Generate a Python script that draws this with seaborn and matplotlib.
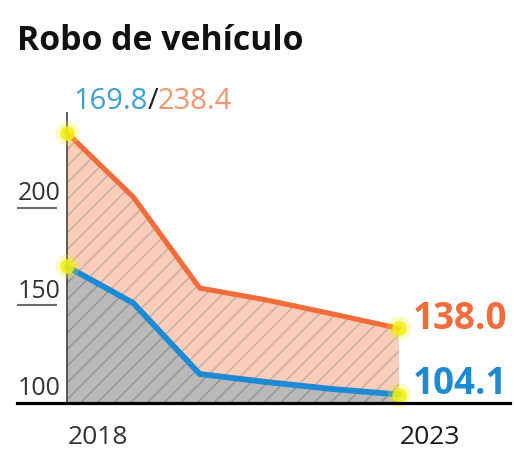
import pandas as pd
import matplotlib.pyplot as plt
import seaborn as sns

# data
years = [2018, 2019, 2020, 2021, 2022, 2023]
total = [238.4, 205.4, 158.7, 152.6, 145.4, 138.0]
solved = [169.8, 151.0, 114.6, 110.5, 106.9, 104.1]
y_ticks = [100, 150, 200]
title = "Robo de vehículo"

df = pd.DataFrame({'year': years, 'total': total, 'solved': solved})

sns.set_style('white')
plt.rcParams['font.family'] = ['Open Sans', 'DejaVu Sans']
plt.rcParams['hatch.linewidth'] = 0.9

ORANGE = '#f26b3a'
BLUE = '#1d8bd3'
SALMON = '#f9cdb7'
GREY = '#b9b9b9'
YELLOW = '#f0f010'

W, H = 514, 456
fig = plt.figure(figsize=(W / 100, H / 100), dpi=100)
ax = fig.add_axes([17 / W, 52.5 / H, 493 / W, 303.5 / H])

px_per_unit = 1.95
ax.set_xlim(2017.25, 2024.67)
ax.set_ylim(100, 100 + 303.5 / px_per_unit)

# areas
ax.fill_between(df['year'], df['total'], 100, facecolor=SALMON, edgecolor='#bba9a6',
                hatch='//', linewidth=0, zorder=1)
ax.fill_between(df['year'], df['solved'], 100, facecolor=GREY, edgecolor='#8f8f8f',
                hatch='//', linewidth=0, zorder=2)

# lines
sns.lineplot(data=df, x='year', y='total', color=ORANGE, linewidth=3.7, ax=ax, zorder=4)
sns.lineplot(data=df, x='year', y='solved', color=BLUE, linewidth=4.2, ax=ax, zorder=4)

# yellow end dots
ends_x = [years[0], years[0], years[-1], years[-1]]
ends_y = [total[0], solved[0], total[-1], solved[-1]]
ax.scatter(ends_x, ends_y, s=300, color=YELLOW, alpha=0.25, linewidth=0, zorder=5, clip_on=False)
ax.scatter(ends_x, ends_y, s=110, color=YELLOW, alpha=0.85, linewidth=0, zorder=6, clip_on=False)

# vertical guide at first year
ax.vlines(years[0], 100, 249, color='#444444', linewidth=1.2, zorder=3)

# spines / ticks
for s in ['top', 'right', 'left']:
    ax.spines[s].set_visible(False)
ax.spines['bottom'].set_color('black')
ax.spines['bottom'].set_linewidth(2.3)
ax.spines['bottom'].set_zorder(7)
ax.set_xticks([])
ax.set_yticks([])
ax.set_xlabel('')
ax.set_ylabel('')

# y labels above short rules
for t in y_ticks:
    if t != 100:
        ax.hlines(t, 2017.25, 2017.85, color='#6a6a6a', linewidth=1.5)
    ax.annotate(str(t), xy=(2017.25, t), xytext=(0.8, 6.1), textcoords='offset points',
                ha='left', va='baseline', fontsize=18, color='#333333')

# x labels
ax.annotate(str(years[0]), xy=(years[0], 100), xytext=(0.8, -29.5), textcoords='offset points',
            ha='left', va='baseline', fontsize=19, color='#333333', annotation_clip=False)
ax.annotate(str(years[-1]), xy=(years[-1], 100), xytext=(0.8, -29.5), textcoords='offset points',
            ha='left', va='baseline', fontsize=19, color='#1a1a1a', annotation_clip=False)

# end values
ax.annotate(f'{total[-1]:.1f}', xy=(years[-1], total[-1]), xytext=(10, 0.5),
            textcoords='offset points', ha='left', va='baseline', fontsize=26.5,
            fontweight='bold', color=ORANGE, annotation_clip=False)
ax.annotate(f'{solved[-1]:.1f}', xy=(years[-1], solved[-1]), xytext=(10, 1.4),
            textcoords='offset points', ha='left', va='baseline', fontsize=26.5,
            fontweight='bold', color=BLUE, annotation_clip=False)

# title and start values
fig.text(17 / W, 1 - 50 / H, title, ha='left', va='baseline', fontsize=24.3,
         fontweight='bold', color='#111111')

parts = [(f'{solved[0]:.1f}', '#3aa0d6'), ('/', '#222222'), (f'{total[0]:.1f}', '#f2956c')]
x = 73 / W
fig.canvas.draw()
r = fig.canvas.get_renderer()
for s, c in parts:
    t = fig.text(x, 1 - 109 / H, s, ha='left', va='baseline', fontsize=21, color=c)
    bb = t.get_window_extent(renderer=r)
    x = bb.x1 / W

fig.savefig('out.png', dpi=100)
